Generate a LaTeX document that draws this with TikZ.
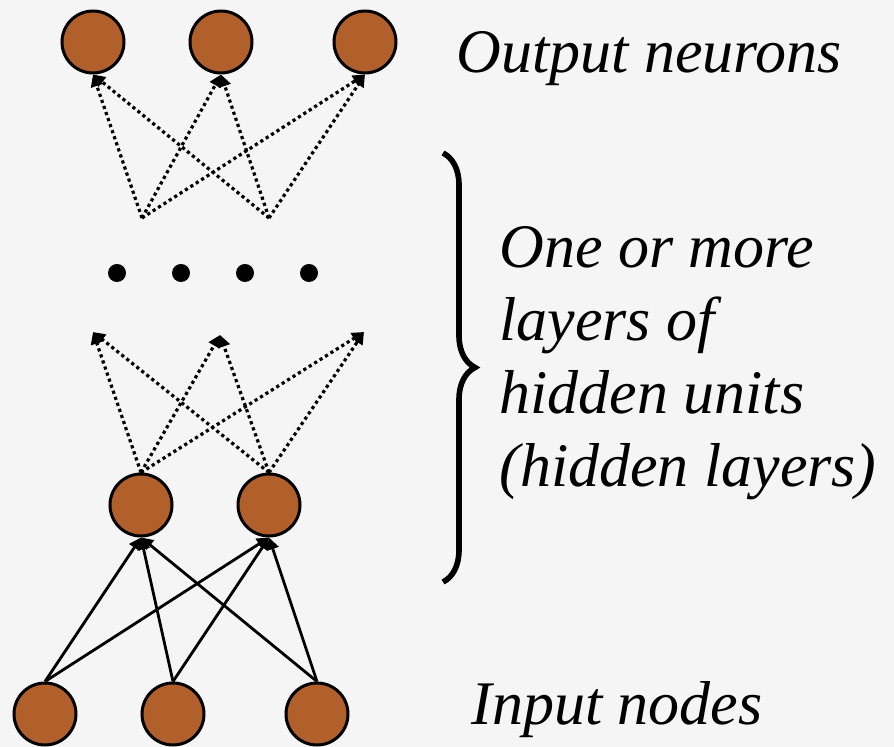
\documentclass[tikz,border=0pt]{standalone}
\usepackage{fontspec}
\setmainfont{Liberation Serif}
\usetikzlibrary{arrows.meta,decorations.pathreplacing}

\definecolor{neuronfill}{RGB}{177,95,43}
\definecolor{slidebg}{RGB}{245,245,245}

\tikzset{
  neuron/.style={circle, draw, line width=1.5pt, fill=neuronfill,
                 minimum size=31pt, inner sep=0pt},
  dotmark/.style={circle, fill, minimum size=9pt, inner sep=0pt},
  dotlink/.style={line width=1.6pt, dash pattern=on 1.6pt off 1.6pt,
                  -{Triangle[length=6pt,width=6pt]}},
  solidlink/.style={line width=1.4pt, -{Triangle[length=6pt,width=6pt]}},
  txt/.style={font=\fontsize{31}{36.5}\selectfont\itshape, inner sep=0pt}
}

\begin{document}
\begin{tikzpicture}[x=0.5pt,y=-0.5pt]

%\draw[help lines,step=50] (0,0) grid (894,747);

\fill[slidebg] (0,0) rectangle (894,747);
\useasboundingbox (0,0) rectangle (894,747);

% neurons
\node[neuron] (out1) at (93,42)  {};
\node[neuron] (out2) at (221,42) {};
\node[neuron] (out3) at (365,42) {};

\node[neuron] (hid1) at (141,505) {};
\node[neuron] (hid2) at (269,505) {};

\node[neuron] (in1) at (45,714)  {};
\node[neuron] (in2) at (173,714) {};
\node[neuron] (in3) at (317,714) {};

% ends of the dotted links
\coordinate (top1) at (142,218);
\coordinate (top2) at (269,218);
\coordinate (low1) at (93,332);
\coordinate (low2) at (220,335);
\coordinate (low3) at (364,332);

\foreach \i/\x in {1/117,2/181,3/245,4/309}
  \node[dotmark] (dot\i) at (\x,273) {};

\foreach \s in {top1,top2}
  \foreach \t in {out1,out2,out3}
    \draw[dotlink] (\s) -- (\t.south);

\foreach \s in {hid1,hid2}
  \foreach \t in {low1,low2,low3}
    \draw[dotlink] (\s.north) -- (\t);

\foreach \s in {in1,in2,in3}
  \foreach \t in {hid1,hid2}
    \draw[solidlink] (\s.north) -- (\t.south);

% brace and texts
\coordinate (brtop) at (443,153);
\coordinate (brbot) at (443,582);
\draw[line width=2.8pt, decorate, decoration={brace, amplitude=16pt}] (brtop) -- (brbot);

\node[txt, anchor=base west] (outtxt) at (456,73) {Output neurons};
\node[txt, anchor=base west, align=left] (hidtxt) at (499,487)
     {One or more\\layers of\\hidden units\\(hidden layers)};
\node[txt, anchor=base west] (intxt) at (471,725) {Input nodes};

\end{tikzpicture}
\end{document}
